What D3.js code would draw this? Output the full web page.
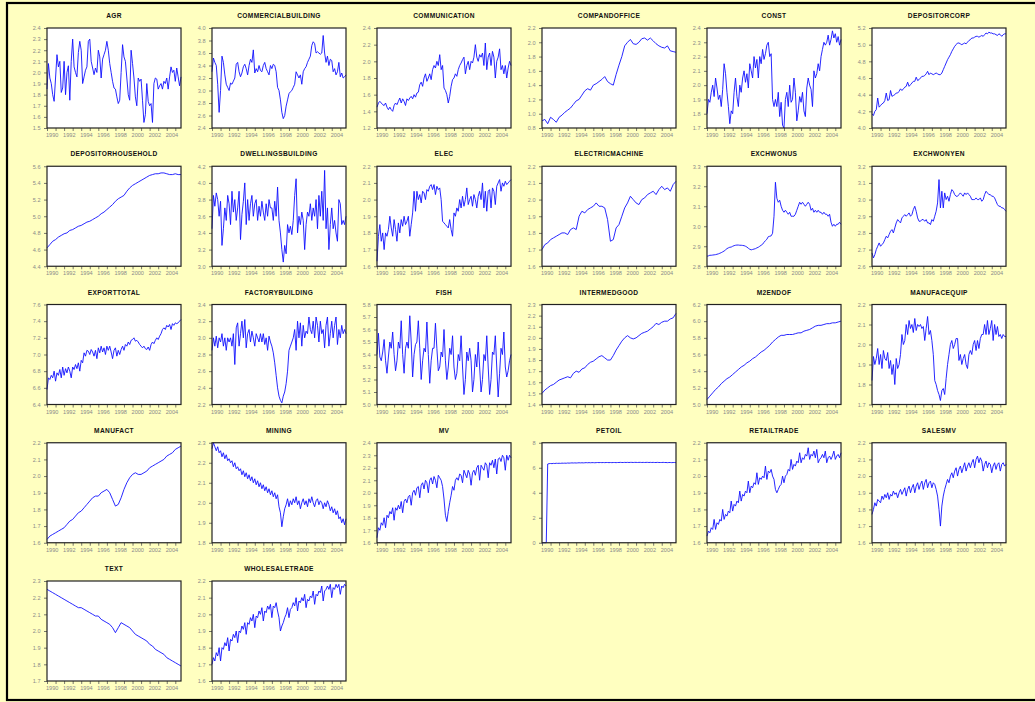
<!DOCTYPE html>
<html>
<head>
<meta charset="utf-8">
<script src="https://cdn.jsdelivr.net/npm/d3@7"></script>
<style>
  html, body { margin: 0; padding: 0; background: #ffffff; }
  svg { display: block; }
</style>
</head>
<body>
<svg id="chart" width="1035" height="702"></svg>
<script>
// Sample period: 1990:01 to 2005:09 (each series spread evenly over it)
const START = 1990, END = 2005 + 8 / 12;
const yearTicks = d3.range(1990, 2006);
const yearLabels = [1990, 1992, 1994, 1996, 1998, 2000, 2002, 2004];

const titles = ["AGR", "COMMERCIALBUILDING", "COMMUNICATION", "COMPANDOFFICE", "CONST", "DEPOSITORCORP",
  "DEPOSITORHOUSEHOLD", "DWELLINGSBUILDING", "ELEC", "ELECTRICMACHINE", "EXCHWONUS", "EXCHWONYEN",
  "EXPORTTOTAL", "FACTORYBUILDING", "FISH", "INTERMEDGOOD", "M2ENDOF", "MANUFACEQUIP",
  "MANUFACT", "MINING", "MV", "PETOIL", "RETAILTRADE", "SALESMV",
  "TEXT", "WHOLESALETRADE"];

// y axis: lowest tick, highest tick, tick step
const yMin  = [1.5, 2.4, 1.2, 0.8, 1.7, 4.0, 4.4, 3.0, 1.6, 1.6, 2.8, 2.6, 6.4, 2.2, 5.0, 1.4, 5.0, 1.7, 1.6, 1.8, 1.6, 0, 1.6, 1.6, 1.7, 1.6];
const yMax  = [2.4, 4.0, 2.4, 2.2, 2.4, 5.2, 5.6, 4.2, 2.2, 2.2, 3.3, 3.2, 7.6, 3.4, 5.8, 2.3, 6.2, 2.2, 2.2, 2.3, 2.4, 8, 2.2, 2.2, 2.3, 2.2];
const yStep = [0.1, 0.2, 0.2, 0.2, 0.1, 0.2, 0.2, 0.2, 0.1, 0.1, 0.1, 0.1, 0.2, 0.2, 0.1, 0.1, 0.2, 0.1, 0.1, 0.1, 0.1, 2, 0.1, 0.1, 0.1, 0.1];

const AGR = [
  1.85, 2.08, 1.95, 1.9, 1.8, 1.74,
  1.95, 2.16, 2.05, 2.1, 1.82, 1.86,
  2.1, 1.8, 2.0, 2.06, 1.75, 2.1,
  2.3, 2.05, 2.0, 1.96, 2.18, 2.28,
  2.2, 1.9, 1.96, 2.02, 2.05, 2.28,
  2.3, 2.1, 2.04, 1.98, 2.04, 2.0,
  2.2, 2.14, 1.95, 2.12, 2.16, 2.2,
  2.28, 2.2, 2.08, 2.0, 1.92, 1.86,
  1.85, 1.78, 1.72, 1.75, 2.0, 2.25,
  2.14, 2.1, 1.95, 1.8, 1.75, 2.2,
  2.08, 1.95, 1.78, 1.7, 1.95, 1.92,
  1.94, 1.75, 1.55, 1.62, 1.9, 1.74,
  1.7, 1.72, 1.55, 1.9, 1.95, 1.94,
  1.85, 1.88, 1.9, 1.85, 1.92, 1.9,
  1.95, 1.85, 1.96, 2.05, 2.0, 2.02,
  1.92, 2.04, 1.96, 1.88, 1.96
];
const COMMERCIALBUILDING = [
  3.3, 3.52, 3.45, 3.4, 3.1, 2.65,
  3.0, 3.55, 3.45, 3.25, 3.1, 3.05,
  3.0, 3.12, 3.1, 3.15, 3.2, 3.42,
  3.45, 3.3, 3.22, 3.28, 3.38, 3.42,
  3.35, 3.25, 3.4, 3.5, 3.45, 3.65,
  3.28, 3.35, 3.3, 3.4, 3.32, 3.3,
  3.4, 3.45, 3.35, 3.3, 3.25, 3.4,
  3.35, 3.42, 3.4, 3.3, 3.05, 3.0,
  2.85, 2.65, 2.55, 2.6, 2.75, 2.85,
  2.95, 2.98, 3.0, 3.05, 3.1, 3.3,
  3.25, 3.2, 3.25, 3.1, 3.3, 3.35,
  3.38, 3.45, 3.5, 3.55, 3.72, 3.78,
  3.75, 3.6, 3.62, 3.6, 3.58, 3.6,
  3.88, 3.6, 3.45, 3.55, 3.4, 3.5,
  3.48, 3.3, 3.35, 3.25, 3.3, 3.45,
  3.22, 3.28, 3.2, 3.22, 3.25
];
const COMMUNICATION = [
  1.45, 1.5, 1.52, 1.5, 1.48, 1.47,
  1.5, 1.45, 1.42, 1.45, 1.42, 1.4,
  1.47, 1.5, 1.48, 1.52, 1.56, 1.5,
  1.55, 1.52, 1.47, 1.55, 1.53, 1.56,
  1.58, 1.55, 1.6, 1.57, 1.62, 1.63,
  1.72, 1.75, 1.7, 1.8, 1.85, 1.76,
  1.8, 1.85, 1.78, 1.9, 1.95, 1.92,
  2.0, 1.95, 2.08, 1.9, 1.95, 1.68,
  1.65, 1.6, 1.5, 1.58, 1.7, 1.78,
  1.8, 1.85, 1.82, 1.9, 1.95, 1.98,
  2.02, 2.05, 1.85, 1.95, 2.0, 1.9,
  2.0, 1.98, 2.05, 2.2, 2.05, 2.0,
  2.08, 2.05, 2.1, 1.95, 2.22, 1.9,
  2.05, 2.1, 1.95, 2.12, 2.05, 1.8,
  2.0, 2.05, 2.15, 1.9, 1.95, 1.85,
  1.95, 1.8, 1.92, 2.0, 1.95
];
const COMPANDOFFICE = [
  0.9, 0.92, 0.86,
  0.95, 0.92, 0.88,
  0.95, 0.98, 1.02,
  1.05, 1.08, 1.13,
  1.18, 1.2, 1.26,
  1.32, 1.35, 1.33,
  1.4, 1.42, 1.45,
  1.48, 1.52, 1.45,
  1.42, 1.4, 1.55,
  1.68, 1.8, 1.95,
  2.0, 2.04, 1.98,
  1.97, 2.0, 2.05,
  2.06, 2.03, 2.06,
  2.02, 1.98, 1.95,
  1.93, 1.92, 1.95,
  1.88, 1.87, 1.86
];
const CONST = [
  1.8, 1.9, 1.88, 1.95, 2.0, 1.92,
  2.05, 1.98, 1.9, 1.93, 1.85, 1.97,
  2.15, 2.08, 1.95, 1.85, 1.73, 1.82,
  1.8, 1.95, 2.05, 1.92, 1.85, 2.0,
  1.95, 2.05, 2.1, 2.02, 2.08, 1.98,
  2.15, 2.1, 2.05, 2.2, 2.12, 2.18,
  2.05, 2.2, 2.15, 2.25, 2.18, 2.22,
  2.28, 2.3, 2.2, 2.22, 1.9, 1.85,
  1.9, 1.85, 1.95, 1.78, 1.88, 1.72,
  1.7, 1.9, 1.95, 1.85, 2.0, 1.88,
  1.9, 2.05, 1.95, 1.75, 1.82, 1.92,
  1.88, 1.95, 1.82, 1.78, 1.98, 2.05,
  2.0, 1.97, 1.85, 2.1, 2.05, 2.08,
  2.15, 2.1, 2.2, 2.25, 2.3, 2.28,
  2.3, 2.35, 2.28, 2.32, 2.38, 2.33,
  2.36, 2.3, 2.34, 2.28, 2.32
];
const DEPOSITORCORP = [
  4.17, 4.15, 4.2, 4.22, 4.36, 4.25,
  4.27, 4.29, 4.3, 4.33, 4.42, 4.33,
  4.34, 4.45, 4.38, 4.39, 4.4, 4.42,
  4.42, 4.44, 4.47, 4.45, 4.47, 4.49,
  4.5, 4.55, 4.5, 4.52, 4.54, 4.56,
  4.56, 4.61, 4.57, 4.58, 4.6, 4.62,
  4.62, 4.63, 4.65, 4.68, 4.64, 4.66,
  4.65, 4.64, 4.65, 4.66, 4.65, 4.64,
  4.64, 4.66, 4.7, 4.74, 4.78, 4.82,
  4.85, 4.88, 4.92, 4.95, 4.98, 5.0,
  5.02, 5.02, 5.01, 5.0, 5.01, 5.02,
  5.01, 5.03, 5.05, 5.06, 5.08, 5.08,
  5.09, 5.1, 5.1, 5.09, 5.1, 5.11,
  5.1, 5.12, 5.14, 5.13, 5.15, 5.14,
  5.14, 5.13, 5.13, 5.12, 5.11, 5.13,
  5.12, 5.1, 5.12, 5.13, 5.13
];
const DEPOSITORHOUSEHOLD = [
  4.62, 4.66, 4.7,
  4.72, 4.75, 4.77,
  4.79, 4.8, 4.83,
  4.84, 4.86, 4.88,
  4.89, 4.91, 4.93,
  4.94, 4.96, 4.98,
  5.0, 5.03, 5.05,
  5.08, 5.11, 5.14,
  5.18, 5.21, 5.23,
  5.25, 5.3, 5.34,
  5.37, 5.39, 5.41,
  5.43, 5.45, 5.47,
  5.49, 5.5, 5.51,
  5.51, 5.52, 5.52,
  5.51, 5.5, 5.5,
  5.51, 5.5, 5.5
];
const DWELLINGSBUILDING = [
  3.45, 3.85, 3.72, 3.88, 3.8, 3.6,
  3.78, 3.25, 3.45, 3.7, 3.55, 3.85,
  3.75, 3.5, 3.9, 3.65, 3.8, 3.55,
  3.7, 3.9, 3.32, 3.62, 3.78, 4.0,
  3.5, 3.8, 3.55, 3.75, 3.85, 3.6,
  3.75, 3.8, 3.55, 3.72, 3.6, 3.78,
  3.65, 3.55, 3.75, 3.6, 3.8, 3.7,
  3.7, 3.55, 3.78, 3.6, 3.95, 3.55,
  3.4, 3.2, 3.05, 3.25, 3.15, 3.5,
  3.4, 3.48, 3.38, 3.55, 3.85, 4.05,
  3.4, 3.6, 3.5, 3.65, 3.55, 3.2,
  3.5, 3.65, 3.6, 3.75, 3.55, 3.7,
  3.6, 3.8, 3.45, 3.85, 3.6, 3.9,
  3.55, 4.15, 3.45, 3.7, 3.2, 3.5,
  3.7, 3.45, 3.55, 3.4, 3.3, 3.8,
  3.75, 3.5, 3.55, 3.5, 3.6
];
const ELEC = [
  1.63, 1.78, 1.85, 1.75, 1.8, 1.7,
  1.8, 1.78, 1.82, 1.9, 1.83, 1.78,
  1.88, 1.82, 1.75, 1.86, 1.8, 1.88,
  1.84, 1.9, 1.85, 1.87, 1.9, 1.78,
  1.85, 1.92, 2.05, 1.93, 2.05, 2.0,
  2.03, 1.98, 2.05, 2.04, 2.0, 2.06,
  2.05, 2.08, 2.09, 2.06, 2.09, 2.03,
  2.08, 2.06, 2.07, 2.0, 1.87, 1.86,
  1.85, 1.84, 1.83, 1.88, 1.82, 1.78,
  1.92, 1.9, 1.95, 1.93, 2.0, 1.95,
  2.02, 1.96, 2.0, 2.07, 1.97, 2.0,
  2.02, 1.96, 2.03, 2.0, 1.95, 2.02,
  2.05, 2.0, 2.1, 1.95, 2.05, 1.93,
  2.05, 2.06, 1.95, 2.07, 2.05, 1.97,
  2.08, 2.1, 2.12, 2.05, 2.1, 2.08,
  2.11, 2.09, 2.1, 2.11, 2.12
];
const ELECTRICMACHINE = [
  1.7, 1.73, 1.74,
  1.76, 1.77, 1.78,
  1.79, 1.8, 1.8,
  1.79, 1.82, 1.83,
  1.82, 1.9, 1.93,
  1.92, 1.94, 1.95,
  1.96, 1.98, 1.96,
  1.96, 1.95, 1.88,
  1.75, 1.76, 1.83,
  1.85, 1.9, 1.95,
  1.98, 2.02, 2.0,
  1.98, 1.97, 2.0,
  2.01, 2.03, 2.04,
  2.05, 2.03, 2.06,
  2.08, 2.06, 2.07,
  2.05, 2.09, 2.11
];
const EXCHWONUS = [
  2.85, 2.852, 2.855, 2.855, 2.856, 2.857,
  2.858, 2.86, 2.862, 2.865, 2.868, 2.872,
  2.876, 2.882, 2.888, 2.892, 2.895, 2.896,
  2.9, 2.903, 2.905, 2.906, 2.906, 2.905,
  2.905, 2.904, 2.903, 2.9, 2.896, 2.89,
  2.885, 2.882, 2.884, 2.886, 2.888, 2.892,
  2.895, 2.9, 2.905, 2.91, 2.92, 2.928,
  2.935, 2.948, 2.95, 2.952, 2.965, 3.05,
  3.22, 3.14, 3.12, 3.13, 3.1, 3.08,
  3.07, 3.08, 3.07, 3.06, 3.07, 3.05,
  3.05, 3.05, 3.06, 3.08, 3.1, 3.12,
  3.11, 3.12, 3.11, 3.1, 3.11, 3.12,
  3.11, 3.08, 3.09, 3.07, 3.08, 3.07,
  3.08, 3.07, 3.07, 3.06, 3.07, 3.06,
  3.06, 3.05, 3.06, 3.02, 3.0, 3.01,
  3.0, 3.01, 3.01, 3.02, 3.01
];
const EXCHWONYEN = [
  2.68, 2.65, 2.67, 2.7, 2.72, 2.74,
  2.72, 2.73, 2.74, 2.76, 2.78, 2.77,
  2.79, 2.81, 2.82, 2.8, 2.83, 2.86,
  2.88, 2.87, 2.86, 2.89, 2.9, 2.91,
  2.9, 2.91, 2.92, 2.9, 2.91, 2.94,
  2.96, 2.93, 2.89, 2.87, 2.87, 2.88,
  2.88, 2.87, 2.88, 2.86, 2.86, 2.85,
  2.88, 2.87, 2.9, 2.93, 2.98, 3.12,
  2.95, 3.05, 2.95, 3.04, 3.0, 3.02,
  2.99, 3.03, 3.06, 3.05, 3.03, 3.02,
  3.02, 3.03, 3.04, 3.03, 3.02, 3.04,
  3.03, 3.04, 3.03, 3.02, 3.0, 3.0,
  3.0, 3.01, 3.0, 3.0, 3.01, 2.99,
  3.0, 3.03, 3.05, 3.04, 3.03, 3.03,
  3.02, 3.02, 3.01, 2.99, 2.97, 2.96,
  2.96, 2.95, 2.95, 2.94, 2.93
];
const EXPORTTOTAL = [
  6.58, 6.72, 6.7, 6.75, 6.72, 6.8,
  6.68, 6.78, 6.75, 6.82, 6.72, 6.85,
  6.75, 6.83, 6.78, 6.85, 6.8, 6.72,
  6.85, 6.82, 6.88, 6.83, 6.9, 6.8,
  6.93, 6.9, 7.02, 6.98, 7.05, 7.04,
  7.0, 7.06, 7.03, 6.98, 7.05, 6.95,
  7.08, 7.02, 7.1, 7.03, 7.08, 7.0,
  7.1, 7.05, 7.1, 7.03, 6.95, 7.05,
  7.08, 6.98, 7.05, 7.0, 7.06, 7.1,
  7.05, 7.12, 7.1, 7.15, 7.12, 7.17,
  7.18, 7.2, 7.16, 7.17, 7.15, 7.12,
  7.1, 7.08, 7.1, 7.07, 7.06, 7.09,
  7.05, 7.12, 7.15, 7.13, 7.17, 7.2,
  7.18, 7.22, 7.25, 7.3, 7.32, 7.3,
  7.35, 7.33, 7.36, 7.3, 7.37, 7.35,
  7.38, 7.37, 7.38, 7.4, 7.42
];
const FACTORYBUILDING = [
  2.85, 3.0, 2.9, 3.02, 2.88, 3.0,
  2.95, 3.05, 2.9, 3.0, 2.85, 3.0,
  2.95, 3.0, 2.9, 3.05, 2.68, 3.12,
  3.18, 2.9, 3.05, 3.2, 3.0, 3.22,
  2.88, 3.05, 3.1, 2.95, 3.08, 3.0,
  2.9, 3.05, 3.0, 2.95, 3.05, 2.95,
  3.05, 2.92, 3.0, 2.85, 3.02, 2.95,
  2.9, 2.82, 2.7, 2.55, 2.4, 2.3,
  2.25, 2.22, 2.3, 2.35, 2.45, 2.6,
  2.85, 2.9, 2.95, 3.0, 3.1, 2.85,
  3.2, 3.0, 3.18, 2.9, 3.15, 3.0,
  3.08, 3.05, 3.25, 3.1, 3.05, 3.2,
  3.0, 3.25, 3.15, 2.95, 3.2, 3.05,
  3.1, 2.88, 3.15, 3.25, 2.9, 3.05,
  3.2, 3.0, 3.15, 3.25, 2.92, 3.1,
  3.0, 3.15, 3.05, 3.1, 3.05
];
const FISH = [
  5.4, 5.57, 5.38, 5.35, 5.42, 5.52,
  5.35, 5.25, 5.38, 5.5, 5.45, 5.58,
  5.4, 5.27, 5.35, 5.5, 5.45, 5.67,
  5.4, 5.25, 5.45, 5.5, 5.45, 5.71,
  5.5, 5.22, 5.4, 5.48, 5.5, 5.67,
  5.45, 5.2, 5.35, 5.45, 5.42, 5.66,
  5.4, 5.17, 5.35, 5.45, 5.45, 5.65,
  5.45, 5.27, 5.3, 5.42, 5.38, 5.6,
  5.35, 5.2, 5.3, 5.45, 5.4, 5.55,
  5.3, 5.2, 5.25, 5.4, 5.35, 5.55,
  5.3, 5.08, 5.2, 5.42, 5.35, 5.45,
  5.35, 5.1, 5.2, 5.4, 5.3, 5.5,
  5.3, 5.1, 5.2, 5.4, 5.35, 5.55,
  5.3, 5.08, 5.2, 5.42, 5.4, 5.55,
  5.3, 5.06, 5.25, 5.45, 5.4, 5.58,
  5.3, 5.22, 5.27, 5.35, 5.4
];
const INTERMEDGOOD = [
  1.5, 1.53, 1.55,
  1.57, 1.58, 1.6,
  1.62, 1.63, 1.64,
  1.65, 1.64, 1.68,
  1.7, 1.69, 1.72,
  1.73, 1.76, 1.78,
  1.79, 1.81, 1.83,
  1.84, 1.82, 1.8,
  1.8, 1.84, 1.89,
  1.93, 1.97, 2.0,
  2.02, 2.0, 1.99,
  2.0, 2.02, 2.04,
  2.05, 2.06, 2.08,
  2.1, 2.13, 2.12,
  2.14, 2.15, 2.15,
  2.17, 2.18, 2.22
];
const M2ENDOF = [
  5.06, 5.1, 5.14,
  5.18, 5.21, 5.25,
  5.28, 5.31, 5.33,
  5.36, 5.39, 5.42,
  5.45, 5.47, 5.5,
  5.52, 5.55, 5.57,
  5.6, 5.63, 5.65,
  5.68, 5.71, 5.75,
  5.78, 5.81, 5.83,
  5.83, 5.84, 5.84,
  5.84, 5.85, 5.86,
  5.86, 5.88, 5.89,
  5.9, 5.92, 5.94,
  5.95, 5.95, 5.96,
  5.97, 5.97, 5.98,
  5.98, 5.99, 6.0
];
const MANUFACEQUIP = [
  1.82, 1.94, 1.9, 1.93, 1.98, 1.9,
  1.95, 1.88, 1.97, 1.93, 1.92, 1.96,
  1.88, 1.92, 1.85, 1.9, 1.8, 1.93,
  1.88, 1.9, 1.95, 2.05, 2.0, 2.02,
  2.1, 2.05, 2.12, 2.08, 2.1, 2.06,
  2.13, 2.07, 2.1, 2.09, 2.1, 2.08,
  2.09, 2.02, 2.08, 2.14, 2.05, 2.07,
  2.02, 1.95, 1.82, 1.8, 1.77, 1.75,
  1.72, 1.77, 1.78, 1.75, 1.83, 1.9,
  1.95, 2.0, 2.02, 1.98, 2.0, 2.03,
  2.03, 1.92, 1.95, 1.9, 1.93, 1.95,
  1.9, 1.88, 1.95, 1.97, 1.95, 2.0,
  2.02, 1.97, 2.02, 1.98, 2.03, 2.05,
  2.05, 2.1, 2.05, 2.12, 2.05, 2.08,
  2.12, 2.02, 2.1, 2.05, 2.09, 2.04,
  2.05, 2.03, 2.05, 2.04, 2.04
];
const MANUFACT = [
  1.62, 1.64, 1.65,
  1.66, 1.67, 1.68,
  1.69, 1.71, 1.73,
  1.74, 1.76, 1.78,
  1.79, 1.81, 1.83,
  1.85, 1.87, 1.88,
  1.88, 1.9, 1.91,
  1.92, 1.9, 1.86,
  1.82, 1.83, 1.87,
  1.92, 1.96, 1.99,
  2.01, 2.02, 2.01,
  2.01, 2.02, 2.03,
  2.05, 2.06, 2.07,
  2.08, 2.09, 2.1,
  2.12, 2.13, 2.14,
  2.16, 2.17, 2.18
];
const MINING = [
  2.27, 2.3, 2.28, 2.26, 2.28, 2.25,
  2.26, 2.23, 2.25, 2.22, 2.24, 2.21,
  2.22, 2.2, 2.21, 2.18, 2.2, 2.17,
  2.18, 2.16, 2.17, 2.14, 2.16, 2.13,
  2.15, 2.12, 2.14, 2.11, 2.13, 2.1,
  2.12, 2.09, 2.11, 2.08, 2.1, 2.07,
  2.09, 2.06, 2.08, 2.05, 2.07, 2.04,
  2.06, 2.03, 2.05, 2.02, 2.04, 1.98,
  1.95, 1.88, 1.93, 1.97, 1.99, 2.02,
  1.98, 2.01, 1.99, 2.02, 2.0, 2.03,
  1.99, 2.01, 1.97, 2.0, 2.02, 1.99,
  2.01, 1.98, 2.02, 2.0, 2.03, 2.0,
  1.98, 2.01, 2.02, 1.99, 2.01, 2.0,
  1.97, 2.0, 1.98, 2.01, 1.99, 1.96,
  1.98, 1.95, 1.97, 1.94, 1.96, 1.92,
  1.93, 1.9, 1.92, 1.89, 1.92
];
const MV = [
  1.64, 1.72, 1.7, 1.76, 1.74, 1.8,
  1.72, 1.82, 1.8, 1.85, 1.83, 1.88,
  1.78, 1.88, 1.86, 1.9, 1.87, 1.93,
  1.84, 1.93, 1.95, 1.92, 1.97, 1.98,
  1.9, 2.0, 2.02, 1.98, 2.04, 2.05,
  1.96, 2.06, 2.08, 2.03, 2.1, 2.08,
  2.0, 2.1, 2.12, 2.07, 2.13, 2.1,
  2.04, 2.14, 2.12, 2.1, 2.05, 1.95,
  1.82, 1.77, 1.85, 1.92, 1.98, 2.05,
  2.02, 2.1, 2.12, 2.1, 2.15, 2.14,
  2.08, 2.18, 2.15, 2.12, 2.18, 2.15,
  2.06, 2.16, 2.18, 2.14, 2.2, 2.22,
  2.1, 2.22, 2.2, 2.18, 2.24, 2.22,
  2.12, 2.24, 2.22, 2.26, 2.2, 2.27,
  2.15, 2.27, 2.28, 2.25, 2.3, 2.28,
  2.18, 2.3, 2.26, 2.3, 2.28
];
const PETOIL = [
  0, 0, 0, 0, 6.3, 6.33,
  6.34, 6.33, 6.35, 6.34, 6.36, 6.35,
  6.36, 6.35, 6.37, 6.36, 6.37, 6.36,
  6.38, 6.37, 6.38, 6.39, 6.38, 6.39,
  6.38, 6.39, 6.4, 6.39, 6.4, 6.39,
  6.4, 6.41, 6.4, 6.41, 6.4, 6.41,
  6.41, 6.4, 6.41, 6.42, 6.41, 6.42,
  6.41, 6.42, 6.41, 6.42, 6.42, 6.41,
  6.42, 6.41, 6.42, 6.42, 6.41, 6.42,
  6.42, 6.43, 6.42, 6.42, 6.43, 6.42,
  6.43, 6.42, 6.43, 6.43, 6.42, 6.43,
  6.43, 6.42, 6.43, 6.43, 6.42, 6.43,
  6.42, 6.43, 6.43, 6.42, 6.43, 6.42,
  6.43, 6.42, 6.42, 6.43, 6.42, 6.42,
  6.42, 6.43, 6.42, 6.42, 6.41, 6.42,
  6.42, 6.41, 6.42, 6.42, 6.41
];
const RETAILTRADE = [
  1.64, 1.67, 1.66, 1.69, 1.68, 1.74,
  1.68, 1.72, 1.71, 1.74, 1.73, 1.8,
  1.74, 1.77, 1.76, 1.79, 1.78, 1.85,
  1.79, 1.83, 1.82, 1.85, 1.84, 1.91,
  1.85, 1.89, 1.88, 1.91, 1.9, 1.97,
  1.9, 1.94, 1.93, 1.96, 1.95, 2.02,
  1.95, 1.99, 1.98, 2.0, 1.99, 2.06,
  1.98, 2.03, 2.02, 2.04, 2.0, 1.98,
  1.92, 1.9, 1.92, 1.94, 1.95, 2.0,
  1.96, 2.0, 2.01, 2.04, 2.03, 2.1,
  2.04, 2.07, 2.06, 2.09, 2.08, 2.14,
  2.08, 2.11, 2.1, 2.13, 2.12, 2.17,
  2.1, 2.13, 2.12, 2.15, 2.11, 2.16,
  2.08, 2.1, 2.11, 2.13, 2.11, 2.15,
  2.08, 2.11, 2.12, 2.1, 2.12, 2.15,
  2.1, 2.12, 2.13, 2.11, 2.14
];
const SALESMV = [
  1.77, 1.8, 1.84, 1.82, 1.86, 1.85,
  1.84, 1.88, 1.86, 1.89, 1.87, 1.9,
  1.86, 1.89, 1.88, 1.91, 1.89, 1.9,
  1.87, 1.9, 1.92, 1.89, 1.91, 1.93,
  1.88, 1.92, 1.94, 1.9, 1.93, 1.95,
  1.9, 1.94, 1.96, 1.92, 1.95, 1.97,
  1.92, 1.96, 1.98, 1.93, 1.96, 1.97,
  1.93, 1.96, 1.95, 1.92, 1.88, 1.8,
  1.7, 1.82, 1.88, 1.92, 1.95, 1.98,
  1.96, 2.0, 2.02, 1.99, 2.03, 2.05,
  2.0, 2.04, 2.06, 2.02, 2.05, 2.08,
  2.03, 2.06, 2.08, 2.05, 2.08, 2.1,
  2.05, 2.1, 2.12, 2.08, 2.11, 2.09,
  2.03, 2.07, 2.09, 2.05, 2.08, 2.07,
  2.02, 2.06, 2.08, 2.04, 2.07, 2.08,
  2.03, 2.07, 2.08, 2.06, 2.07
];
const TEXT = [
  2.25, 2.24, 2.23,
  2.22, 2.21, 2.2,
  2.19, 2.18, 2.17,
  2.16, 2.15, 2.14,
  2.14, 2.13, 2.12,
  2.11, 2.1, 2.09,
  2.09, 2.07, 2.06,
  2.05, 2.04, 2.02,
  1.99, 2.02, 2.05,
  2.04, 2.03, 2.02,
  2.0, 1.98, 1.97,
  1.96, 1.95, 1.94,
  1.92, 1.91, 1.89,
  1.88, 1.87, 1.86,
  1.84, 1.83, 1.82,
  1.81, 1.8, 1.79
];
const WHOLESALETRADE = [
  1.7, 1.74, 1.72, 1.77, 1.75, 1.8,
  1.72, 1.8, 1.79, 1.83, 1.81, 1.86,
  1.78, 1.85, 1.84, 1.88, 1.86, 1.9,
  1.83, 1.9, 1.89, 1.93, 1.91, 1.95,
  1.88, 1.95, 1.94, 1.98, 1.96, 2.0,
  1.92, 1.99, 1.98, 2.02, 2.0, 2.04,
  1.96, 2.02, 2.01, 2.05, 2.03, 2.06,
  1.98, 2.05, 2.04, 2.07, 2.02, 1.98,
  1.9, 1.93, 1.95, 1.98, 2.0, 2.04,
  1.98, 2.03, 2.04, 2.07, 2.05, 2.1,
  2.02, 2.08, 2.07, 2.1, 2.08, 2.12,
  2.04, 2.09, 2.08, 2.11, 2.1, 2.14,
  2.06, 2.12, 2.11, 2.14, 2.13, 2.17,
  2.08, 2.14, 2.15, 2.17, 2.15, 2.18,
  2.1, 2.16, 2.15, 2.18, 2.16, 2.18,
  2.12, 2.17, 2.16, 2.18, 2.17
];

const seriesValues = [AGR, COMMERCIALBUILDING, COMMUNICATION, COMPANDOFFICE, CONST, DEPOSITORCORP,
  DEPOSITORHOUSEHOLD, DWELLINGSBUILDING, ELEC, ELECTRICMACHINE, EXCHWONUS, EXCHWONYEN,
  EXPORTTOTAL, FACTORYBUILDING, FISH, INTERMEDGOOD, M2ENDOF, MANUFACEQUIP,
  MANUFACT, MINING, MV, PETOIL, RETAILTRADE, SALESMV,
  TEXT, WHOLESALETRADE];

// ---- layout ----
const W = 1035, H = 702;
const NCOL = 6;
const plotW = 134, plotH = 100;
const colX = c => 47 + c * 165;
const rowY = r => 28 + r * 138.25;

const svg = d3.select("#chart");

svg.append("rect").attr("x", 0).attr("y", 0).attr("width", W).attr("height", H)
  .attr("fill", "#ffffc0");
svg.append("rect").attr("x", 7).attr("y", 3).attr("width", W + 10).attr("height", H - 5)
  .attr("fill", "none").attr("stroke", "#000").attr("stroke-width", 2.2);

const x = d3.scaleLinear().domain([START, END]).range([0, plotW]);

titles.forEach((name, k) => {
  const c = k % NCOL, r = Math.floor(k / NCOL);
  const g = svg.append("g").attr("transform", `translate(${colX(c)},${rowY(r)})`);
  const vals = seriesValues[k];
  const n = vals.length;
  const pts = vals.map((v, i) => [START + i * (END - START) / (n - 1), v]);

  const y = d3.scaleLinear().domain([yMin[k], yMax[k]]).range([plotH, 0]);
  const step = yStep[k];
  const yt = d3.range(yMin[k], yMax[k] + step / 2, step);
  const fmt = step >= 1 ? d3.format("d") : d3.format(".1f");

  g.append("rect").attr("width", plotW).attr("height", plotH)
    .attr("fill", "#ffffff");

  // title
  g.append("text")
    .attr("x", plotW / 2).attr("y", -10)
    .attr("text-anchor", "middle")
    .attr("font-family", "Liberation Sans, Arial, sans-serif")
    .attr("font-weight", "bold")
    .attr("font-size", 6.6)
    .attr("letter-spacing", 0.35)
    .attr("fill", "#111")
    .text(name);

  // y axis
  const ya = g.append("g").call(
    d3.axisLeft(y).tickValues(yt).tickFormat(fmt).tickSize(3).tickSizeOuter(0));
  ya.select(".domain").remove();
  ya.selectAll("line").attr("stroke", "#555").attr("stroke-width", 0.8);
  ya.selectAll("text").attr("font-size", 5.6).attr("fill", "#8a8a8a")
    .attr("font-family", "Liberation Sans, Arial, sans-serif").attr("dx", -0.5);

  // x axis
  const xa = g.append("g").attr("transform", `translate(0,${plotH})`).call(
    d3.axisBottom(x).tickValues(yearTicks)
      .tickFormat(d => yearLabels.includes(d) ? String(d) : "")
      .tickSize(3).tickSizeOuter(0));
  xa.select(".domain").remove();
  xa.selectAll("line").attr("stroke", "#555").attr("stroke-width", 0.8);
  xa.selectAll("text").attr("font-size", 5.6).attr("fill", "#8a8a8a")
    .attr("font-family", "Liberation Sans, Arial, sans-serif").attr("dy", "0.55em")
    .attr("text-anchor", "start").attr("dx", -1.5);

  // series
  const line = d3.line().x(d => x(d[0])).y(d => y(d[1]));
  g.append("path").datum(pts)
    .attr("d", line)
    .attr("fill", "none")
    .attr("stroke", "#1010ff")
    .attr("stroke-width", 0.9)
    .attr("stroke-linejoin", "round");

  // frame
  g.append("rect").attr("width", plotW).attr("height", plotH)
    .attr("fill", "none").attr("stroke", "#222").attr("stroke-width", 1.2);
});
</script>
</body>
</html>
